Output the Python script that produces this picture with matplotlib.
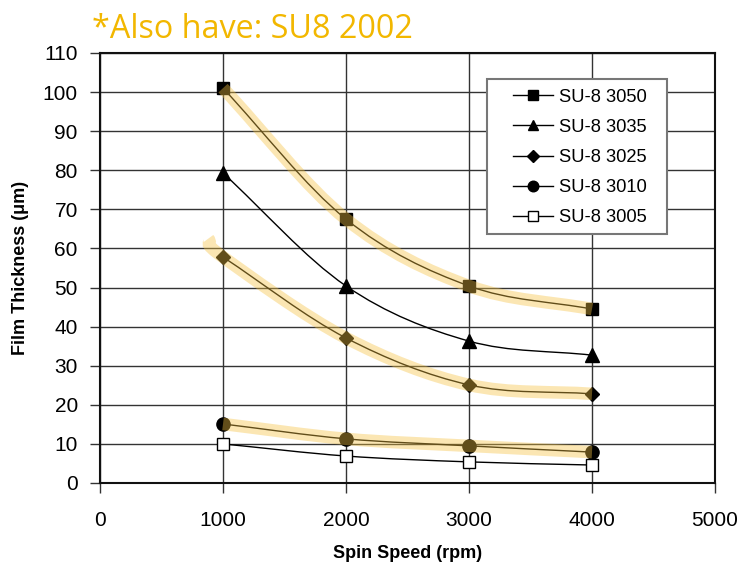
import numpy as np
import matplotlib.pyplot as plt
from matplotlib.path import Path
from matplotlib.patches import PathPatch, Rectangle

speed = [1000, 2000, 3000, 4000]
su3050 = [101, 67.5, 50.4, 44.5]
su3035 = [79.3, 50.4, 36.3, 32.7]
su3025 = [57.8, 37.1, 25.1, 22.8]
su3010 = [15.1, 11.3, 9.5, 7.9]
su3005 = [10.0, 6.9, 5.4, 4.6]

series = [
    ("SU-8 3050", su3050, "s", "black", 8.5),
    ("SU-8 3035", su3035, "^", "black", 9.5),
    ("SU-8 3025", su3025, "D", "black", 7.5),
    ("SU-8 3010", su3010, "o", "black", 9.5),
    ("SU-8 3005", su3005, "s", "white", 8.5),
]
highlighted = ["SU-8 3050", "SU-8 3025", "SU-8 3010"]


def smooth_path(x, y):
    # catmull-rom through the points, as cubic bezier segments (Excel style)
    x = np.asarray(x, float)
    y = np.asarray(y, float)
    px = np.concatenate([[2 * x[0] - x[1]], x, [2 * x[-1] - x[-2]]])
    py = np.concatenate([[2 * y[0] - y[1]], y, [2 * y[-1] - y[-2]]])
    verts = [(x[0], y[0])]
    codes = [Path.MOVETO]
    for i in range(1, len(px) - 2):
        c1 = (px[i] + (px[i + 1] - px[i - 1]) / 6, py[i] + (py[i + 1] - py[i - 1]) / 6)
        c2 = (px[i + 1] - (px[i + 2] - px[i]) / 6, py[i + 1] - (py[i + 2] - py[i]) / 6)
        verts += [c1, c2, (px[i + 1], py[i + 1])]
        codes += [Path.CURVE4] * 3
    return Path(verts, codes)


fig = plt.figure(figsize=(7.43, 5.63), dpi=100)
ax = fig.add_axes([0.1346, 0.1421, 0.8277, 0.7638])

for name, vals, mk, fc, ms in series:
    ax.add_patch(PathPatch(smooth_path(speed, vals), fill=False, edgecolor="black",
                           linewidth=1.0, zorder=3))
    ax.plot(speed, vals, linestyle="none", marker=mk, markersize=ms,
            markerfacecolor=fc, markeredgecolor="black", markeredgewidth=1.0, zorder=4)
    # legend proxy
    ax.plot([], [], "-", color="black", lw=1.0, marker=mk, markersize=ms * 0.8,
            markerfacecolor=fc, markeredgecolor="black", label=name)

# yellow highlight bands
for name, vals, mk, fc, ms in series:
    if name in highlighted:
        xs, ys = list(speed), list(vals)
        if name == "SU-8 3025":
            xs = [880] + xs
            ys = [62.5] + ys
        ax.add_patch(PathPatch(smooth_path(xs, ys), fill=False, edgecolor="#F5C242",
                               alpha=0.4, linewidth=9, capstyle="butt", zorder=5))

ax.set_xlim(0, 5000)
ax.set_ylim(0, 110)
ax.set_xticks(range(0, 5001, 1000))
ax.set_yticks(range(0, 111, 10))
ax.grid(True, color="#333333", linewidth=1.0)
ax.set_axisbelow(True)
for s in ax.spines.values():
    s.set_color("#111111")
    s.set_linewidth(1.5)
ax.tick_params(direction="out", length=7, width=1.0, labelsize=15, color="#333333")
ax.tick_params(axis="x", pad=13)
ax.tick_params(axis="y", pad=9)
for lab in ax.get_xticklabels() + ax.get_yticklabels():
    lab.set_fontfamily("Liberation Sans")

ax.set_xlabel("Spin Speed (rpm)", fontsize=13, fontweight="bold", family="Liberation Sans", labelpad=11)
ax.set_ylabel("Film Thickness (\u03bcm)", fontsize=13, fontweight="bold", family="Liberation Sans", labelpad=10)

# legend box drawn separately so the padding can match
ax.add_patch(Rectangle((0.629, 0.579), 0.293, 0.3605, transform=ax.transAxes,
                       facecolor="white", edgecolor="#777777", linewidth=1.5, zorder=9))
leg = ax.legend(loc="upper left", bbox_to_anchor=(0.6715, 0.917), frameon=False,
                handlelength=2.2, handletextpad=0.3, labelspacing=0.72,
                borderpad=0, borderaxespad=0,
                prop={"family": "Liberation Sans", "size": 13.2})
leg.set_zorder(10)

fig.text(0.124, 0.948, "*Also have: SU8 2002", color="#F2B700", fontsize=23.3,
         family="Open Sans", va="center", ha="left")

plt.savefig("out.png", dpi=100)
